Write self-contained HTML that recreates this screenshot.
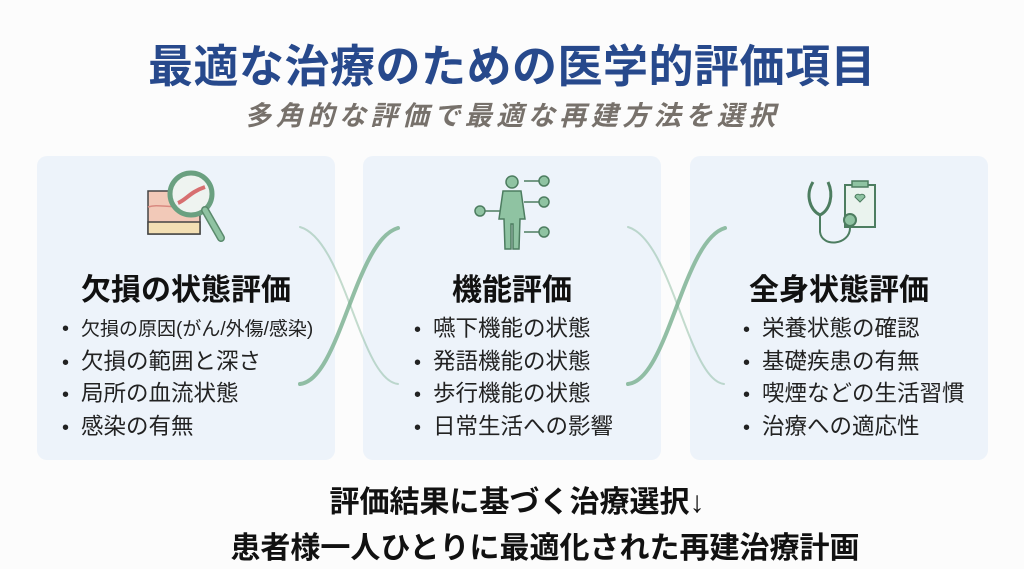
<!DOCTYPE html>
<html><head><meta charset="utf-8"><style>
body{margin:0;width:1024px;height:569px;background:#fcfcfc;position:relative;overflow:hidden;font-family:"Liberation Sans","Noto Sans CJK JP",sans-serif;}
.abs{position:absolute}
.title{left:0;width:1024px;top:30px;text-align:center;font-size:45px;font-weight:bold;color:#27498c;white-space:nowrap;letter-spacing:0.5px}
.sub{left:0;width:1024px;top:94px;text-align:center;font-size:27px;font-weight:bold;font-style:italic;color:#77716b;letter-spacing:4.5px;white-space:nowrap}
.card{background:#edf3fa;border-radius:10px;top:156px;height:304px;width:298px}
.h{font-size:30px;font-weight:bold;color:#111;text-align:center;white-space:nowrap}
ul{margin:0;padding:0;list-style:none}
li{font-size:22.5px;color:#222;height:32.5px;line-height:32.5px;white-space:nowrap}
li:before{content:"•";display:inline-block;width:19px;font-size:20px}
.bot{left:0;width:1024px;text-align:center;font-size:30px;font-weight:bold;color:#111;white-space:nowrap}
</style></head><body>
<div class="abs title">最適な治療のための医学的評価項目</div>
<div class="abs sub">多角的な評価で最適な再建方法を選択</div>

<div class="abs card" style="left:37px"></div>
<div class="abs card" style="left:363px"></div>
<div class="abs card" style="left:690px"></div>

<svg class="abs" style="left:0;top:0" width="1024" height="569">
 <g fill="none" stroke="#7fb394" stroke-linecap="round">
  <path d="M300 227 C345 240 360 380 398 384" stroke-width="2" opacity=".45"/>
  <path d="M300 384 C340 380 355 240 398 228" stroke-width="4" opacity=".85"/>
  <path d="M628 227 C672 240 688 380 724 384" stroke-width="2" opacity=".45"/>
  <path d="M628 384 C668 380 683 240 725 228" stroke-width="4" opacity=".85"/>
 </g>
 <g stroke="#444" stroke-width="1.5">
  <rect x="148" y="191" width="52" height="43" fill="#f2c9b8"/>
  <rect x="148" y="222" width="52" height="12" fill="#f3dfb4"/>
  <path d="M148 207 C160 203 170 210 200 205" fill="none" stroke="#d98a80"/>
 </g>
 <circle cx="191" cy="194" r="21" fill="#eef3f0" stroke="#6aa080" stroke-width="5"/>
 <path d="M178 203 C186 200 190 192 205 187" stroke="#d76f70" stroke-width="4" fill="none"/>
 <line x1="205" y1="210" x2="221" y2="238" stroke="#5a8a6c" stroke-width="8" stroke-linecap="round"/>
 <line x1="205" y1="210" x2="221" y2="238" stroke="#8fc3a2" stroke-width="5" stroke-linecap="round"/>
 <g fill="#8fc3a2" stroke="#4d7d60" stroke-width="1.5">
  <circle cx="512" cy="182" r="6"/>
  <path d="M503 191 h18 l4 28 h-5 l-1 30 h-6 v-25 h-2 v25 h-6 l-1 -30 h-5 z"/>
  <circle cx="480" cy="211" r="5"/>
  <circle cx="544" cy="181" r="5"/>
  <circle cx="544" cy="202" r="5"/>
  <circle cx="544" cy="232" r="5"/>
 </g>
 <g stroke="#4d7d60" stroke-width="1.5"><line x1="485" y1="211" x2="500" y2="211"/><line x1="524" y1="181" x2="539" y2="181"/><line x1="524" y1="202" x2="539" y2="202"/><line x1="524" y1="232" x2="539" y2="232"/></g>
 <rect x="845" y="185" width="30" height="42" fill="#eaf3ee" stroke="#4d7d60" stroke-width="2"/>
 <rect x="852" y="181" width="16" height="6" fill="#8fc3a2" stroke="#4d7d60" stroke-width="1.5"/>
 <path d="M855 197 a3 3 0 0 1 5 -2 a3 3 0 0 1 5 2 l-5 5 z" fill="#8fc3a2" stroke="#4d7d60"/>
 <path d="M813 182 C805 195 810 210 820 215 C830 210 834 195 828 182" fill="none" stroke="#4d7d60" stroke-width="3"/>
 <path d="M820 215 V232 C822 248 850 245 850 228" fill="none" stroke="#4d7d60" stroke-width="2"/>
 <circle cx="850" cy="220" r="6" fill="#8fc3a2" stroke="#4d7d60" stroke-width="2"/>
</svg>

<div class="abs h" style="left:37px;width:298px;top:265px">欠損の状態評価</div>
<div class="abs h" style="left:363px;width:298px;top:265px">機能評価</div>
<div class="abs h" style="left:690px;width:298px;top:265px">全身状態評価</div>

<ul class="abs" style="left:62px;top:313px">
 <li style="font-size:19px">欠損の原因(がん/外傷/感染)</li>
 <li>欠損の範囲と深さ</li><li>局所の血流状態</li><li>感染の有無</li>
</ul>
<ul class="abs" style="left:414px;top:313px">
 <li>嚥下機能の状態</li><li>発語機能の状態</li><li>歩行機能の状態</li><li>日常生活への影響</li>
</ul>
<ul class="abs" style="left:743px;top:313px">
 <li>栄養状態の確認</li><li>基礎疾患の有無</li><li>喫煙などの生活習慣</li><li>治療への適応性</li>
</ul>

<div class="abs bot" style="top:477px;padding-left:5px">評価結果に基づく治療選択↓</div>
<div class="abs bot" style="top:523px;left:33px">患者様一人ひとりに最適化された再建治療計画</div>
</body></html>
